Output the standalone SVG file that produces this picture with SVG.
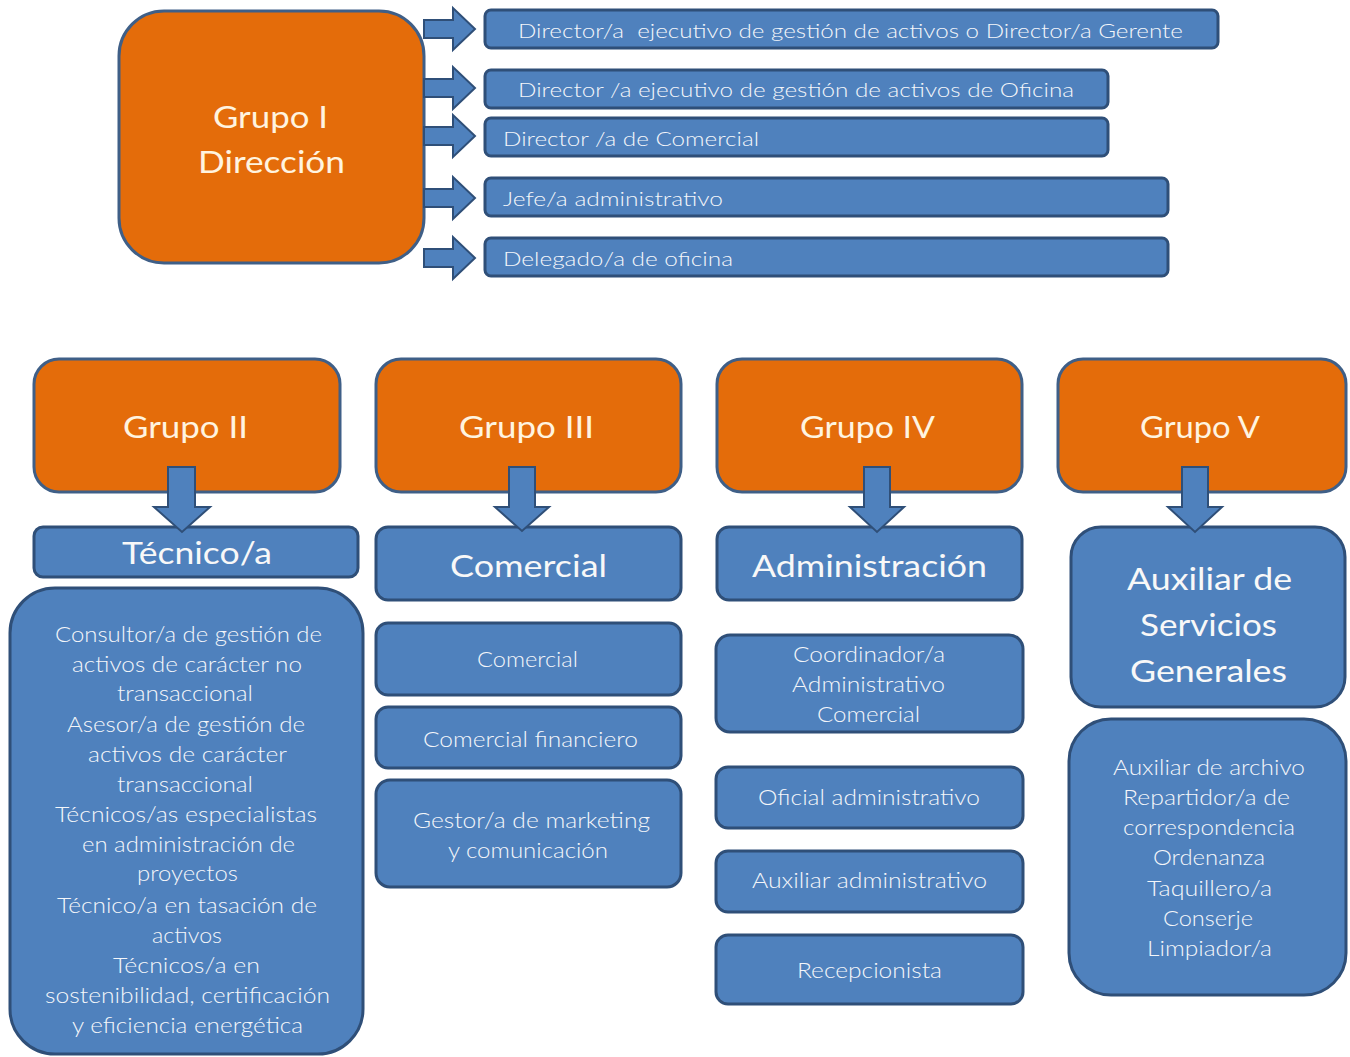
<svg xmlns="http://www.w3.org/2000/svg" width="1350" height="1057" viewBox="0 0 1350 1057">
<style>
  .org{fill:#E46C0A;stroke:#3F5F87;stroke-width:3}
  .blu{fill:#4F81BD;stroke:#2F4F78;stroke-width:3}
  .arr{fill:#4F81BD;stroke:#2F4F78;stroke-width:2;stroke-linejoin:miter}
  text{font-family:Lato,"Open Sans","Liberation Sans",sans-serif}
  .to{fill:#FFF4E0;font-size:30px;font-weight:400}
  .tb{fill:#F8F8F8;font-size:31px;font-weight:400}
  .ts{fill:#F4F6FA;font-size:21px;font-weight:300}
  .tt{fill:#F4F6FA;font-size:20px;font-weight:300}
</style>
<rect width="1350" height="1057" fill="#FFFFFF"/>

<g id="grupo1">
  <rect class="org" x="119" y="11" width="305" height="252" rx="45"/>
  <text class="to" x="213" y="128" textLength="115" lengthAdjust="spacingAndGlyphs">Grupo I</text>
  <text class="to" x="198" y="173" textLength="147" lengthAdjust="spacingAndGlyphs">Dirección</text>
</g>

<g id="dir1">
  <rect class="blu" x="485" y="10" width="733" height="38" rx="6"/>
  <text class="tt" x="518" y="38" textLength="665" lengthAdjust="spacingAndGlyphs">Director/a&#160; ejecutivo de gestión de activos o Director/a Gerente</text>
</g>
<g id="dir2">
  <rect class="blu" x="485" y="70" width="623" height="38" rx="6"/>
  <text class="tt" x="518" y="97" textLength="556" lengthAdjust="spacingAndGlyphs">Director /a ejecutivo de gestión de activos de Oficina</text>
</g>
<g id="dir3">
  <rect class="blu" x="485" y="118" width="623" height="38" rx="6"/>
  <text class="tt" x="503" y="146" textLength="256" lengthAdjust="spacingAndGlyphs">Director /a de Comercial</text>
</g>
<g id="dir4">
  <rect class="blu" x="485" y="178" width="683" height="38" rx="6"/>
  <text class="tt" x="503" y="206" textLength="220" lengthAdjust="spacingAndGlyphs">Jefe/a administrativo</text>
</g>
<g id="dir5">
  <rect class="blu" x="485" y="238" width="683" height="38" rx="6"/>
  <text class="tt" x="503" y="266" textLength="230" lengthAdjust="spacingAndGlyphs">Delegado/a de oficina</text>
</g>

<!-- Grupo II column -->
<g id="grupo2">
  <rect class="org" x="34" y="359" width="306" height="133" rx="25"/>
  <text class="to" x="123" y="438" textLength="125" lengthAdjust="spacingAndGlyphs">Grupo II</text>
</g>
<g id="tecnico">
  <rect class="blu" x="34" y="527" width="324" height="50" rx="9"/>
  <text class="tb" x="122" y="564" textLength="150" lengthAdjust="spacingAndGlyphs">Técnico/a</text>
</g>
<g id="tecnico-lista">
  <rect class="blu" x="10" y="588" width="353" height="466" rx="45"/>
  <text class="ts" x="55" y="642" textLength="267" lengthAdjust="spacingAndGlyphs">Consultor/a de gestión de</text>
  <text class="ts" x="72" y="672" textLength="230" lengthAdjust="spacingAndGlyphs">activos de carácter no</text>
  <text class="ts" x="117" y="701" textLength="136" lengthAdjust="spacingAndGlyphs">transaccional</text>
  <text class="ts" x="67" y="732" textLength="238" lengthAdjust="spacingAndGlyphs">Asesor/a de gestión de</text>
  <text class="ts" x="88" y="762" textLength="199" lengthAdjust="spacingAndGlyphs">activos de carácter</text>
  <text class="ts" x="117" y="792" textLength="136" lengthAdjust="spacingAndGlyphs">transaccional</text>
  <text class="ts" x="55" y="822" textLength="262" lengthAdjust="spacingAndGlyphs">Técnicos/as especialistas</text>
  <text class="ts" x="82" y="852" textLength="213" lengthAdjust="spacingAndGlyphs">en administración de</text>
  <text class="ts" x="137" y="881" textLength="101" lengthAdjust="spacingAndGlyphs">proyectos</text>
  <text class="ts" x="57" y="913" textLength="260" lengthAdjust="spacingAndGlyphs">Técnico/a en tasación de</text>
  <text class="ts" x="152" y="943" textLength="70" lengthAdjust="spacingAndGlyphs">activos</text>
  <text class="ts" x="113" y="973" textLength="147" lengthAdjust="spacingAndGlyphs">Técnicos/a en</text>
  <text class="ts" x="45" y="1003" textLength="285" lengthAdjust="spacingAndGlyphs">sostenibilidad, certificación</text>
  <text class="ts" x="72" y="1033" textLength="231" lengthAdjust="spacingAndGlyphs">y eficiencia energética</text>
</g>

<!-- Grupo III column -->
<g id="grupo3">
  <rect class="org" x="376" y="359" width="305" height="133" rx="25"/>
  <text class="to" x="459" y="438" textLength="135" lengthAdjust="spacingAndGlyphs">Grupo III</text>
</g>
<g id="comercial">
  <rect class="blu" x="376" y="527" width="305" height="73" rx="12"/>
  <text class="tb" x="450" y="577" textLength="157" lengthAdjust="spacingAndGlyphs">Comercial</text>
</g>
<g id="com1">
  <rect class="blu" x="376" y="623" width="305" height="72" rx="12"/>
  <text class="ts" x="477" y="667" textLength="101" lengthAdjust="spacingAndGlyphs">Comercial</text>
</g>
<g id="com2">
  <rect class="blu" x="376" y="707" width="305" height="61" rx="12"/>
  <text class="ts" x="423" y="747" textLength="215" lengthAdjust="spacingAndGlyphs">Comercial financiero</text>
</g>
<g id="com3">
  <rect class="blu" x="376" y="780" width="305" height="107" rx="14"/>
  <text class="ts" x="413" y="828" textLength="237" lengthAdjust="spacingAndGlyphs">Gestor/a de marketing</text>
  <text class="ts" x="448" y="858" textLength="160" lengthAdjust="spacingAndGlyphs">y comunicación</text>
</g>

<!-- Grupo IV column -->
<g id="grupo4">
  <rect class="org" x="717" y="359" width="305" height="133" rx="25"/>
  <text class="to" x="800" y="438" textLength="135" lengthAdjust="spacingAndGlyphs">Grupo IV</text>
</g>
<g id="administracion">
  <rect class="blu" x="717" y="527" width="305" height="73" rx="12"/>
  <text class="tb" x="752" y="577" textLength="235" lengthAdjust="spacingAndGlyphs">Administración</text>
</g>
<g id="adm1">
  <rect class="blu" x="716" y="635" width="307" height="97" rx="14"/>
  <text class="ts" x="793" y="662" textLength="152" lengthAdjust="spacingAndGlyphs">Coordinador/a</text>
  <text class="ts" x="792" y="692" textLength="153" lengthAdjust="spacingAndGlyphs">Administrativo</text>
  <text class="ts" x="817" y="722" textLength="103" lengthAdjust="spacingAndGlyphs">Comercial</text>
</g>
<g id="adm2">
  <rect class="blu" x="716" y="767" width="307" height="61" rx="12"/>
  <text class="ts" x="758" y="805" textLength="222" lengthAdjust="spacingAndGlyphs">Oficial administrativo</text>
</g>
<g id="adm3">
  <rect class="blu" x="716" y="851" width="307" height="61" rx="12"/>
  <text class="ts" x="752" y="888" textLength="235" lengthAdjust="spacingAndGlyphs">Auxiliar administrativo</text>
</g>
<g id="adm4">
  <rect class="blu" x="716" y="935" width="307" height="69" rx="12"/>
  <text class="ts" x="797" y="978" textLength="145" lengthAdjust="spacingAndGlyphs">Recepcionista</text>
</g>

<!-- Grupo V column -->
<g id="grupo5">
  <rect class="org" x="1058" y="359" width="288" height="133" rx="25"/>
  <text class="to" x="1140" y="438" textLength="120" lengthAdjust="spacingAndGlyphs">Grupo V</text>
</g>
<g id="auxiliar">
  <rect class="blu" x="1071" y="527" width="274" height="180" rx="30"/>
  <text class="tb" x="1127" y="590" textLength="165" lengthAdjust="spacingAndGlyphs">Auxiliar de</text>
  <text class="tb" x="1140" y="636" textLength="137" lengthAdjust="spacingAndGlyphs">Servicios</text>
  <text class="tb" x="1130" y="682" textLength="157" lengthAdjust="spacingAndGlyphs">Generales</text>
</g>
<g id="aux-lista">
  <rect class="blu" x="1069" y="719" width="277" height="276" rx="42"/>
  <text class="ts" x="1113" y="775" textLength="192" lengthAdjust="spacingAndGlyphs">Auxiliar de archivo</text>
  <text class="ts" x="1123" y="805" textLength="167" lengthAdjust="spacingAndGlyphs">Repartidor/a de</text>
  <text class="ts" x="1123" y="835" textLength="172" lengthAdjust="spacingAndGlyphs">correspondencia</text>
  <text class="ts" x="1153" y="865" textLength="112" lengthAdjust="spacingAndGlyphs">Ordenanza</text>
  <text class="ts" x="1147" y="896" textLength="125" lengthAdjust="spacingAndGlyphs">Taquillero/a</text>
  <text class="ts" x="1163" y="926" textLength="90" lengthAdjust="spacingAndGlyphs">Conserje</text>
  <text class="ts" x="1147" y="956" textLength="125" lengthAdjust="spacingAndGlyphs">Limpiador/a</text>
</g>

<g id="connectors">
  <polygon class="arr" points="424,20 453,20 453,8 475,29 453,50 453,38 424,38"/>
  <polygon class="arr" points="424,79 453,79 453,67 475,88 453,109 453,97 424,97"/>
  <polygon class="arr" points="424,127 453,127 453,115 475,136 453,157 453,145 424,145"/>
  <polygon class="arr" points="424,189 453,189 453,177 475,198 453,219 453,207 424,207"/>
  <polygon class="arr" points="424,249 453,249 453,237 475,258 453,279 453,267 424,267"/>
  <polygon class="arr" points="168,467 195,467 195,507 210,507 182,532 154,507 168,507"/>
  <polygon class="arr" points="509,467 535,467 535,507 549,507 522,531 495,507 509,507"/>
  <polygon class="arr" points="864,467 890,467 890,507 904,507 877,532 850,507 864,507"/>
  <polygon class="arr" points="1182,467 1208,467 1208,507 1222,507 1195,532 1168,507 1182,507"/>
</g>
</svg>
